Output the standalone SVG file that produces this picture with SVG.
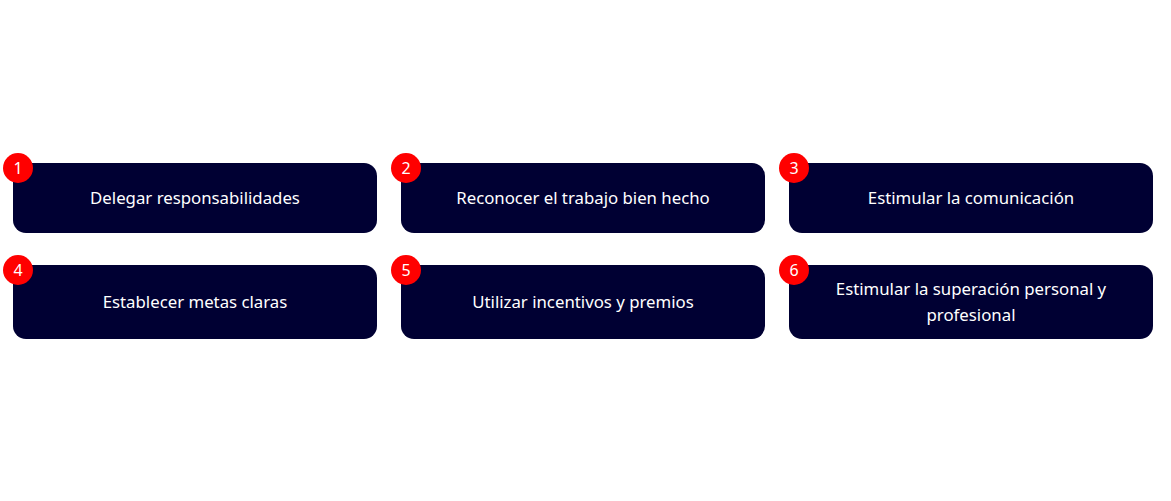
<svg xmlns="http://www.w3.org/2000/svg" width="1171" height="501" viewBox="0 0 1171 501">
<style>
.box{fill:#000033}
.badge{fill:#ff0000}
.t{font-family:"Noto Sans","Open Sans","DejaVu Sans",sans-serif;font-size:16.8px;fill:#ffffff;text-anchor:middle}
.n{font-family:"Noto Sans","Open Sans","DejaVu Sans",sans-serif;font-size:16px;fill:#ffffff;text-anchor:middle}
</style>
<rect width="1171" height="501" fill="#ffffff"/>
<g id="node1">
<rect class="box" x="13" y="163" width="364" height="70" rx="13"/>
<text class="t" x="195" y="204">Delegar responsabilidades</text>
<circle class="badge" cx="18" cy="168" r="15"/>
<text class="n" x="18" y="174">1</text>
</g>
<g id="node2">
<rect class="box" x="401" y="163" width="364" height="70" rx="13"/>
<text class="t" x="583" y="204">Reconocer el trabajo bien hecho</text>
<circle class="badge" cx="406" cy="168" r="15"/>
<text class="n" x="406" y="174">2</text>
</g>
<g id="node3">
<rect class="box" x="789" y="163" width="364" height="70" rx="13"/>
<text class="t" x="971" y="204">Estimular la comunicación</text>
<circle class="badge" cx="794" cy="168" r="15"/>
<text class="n" x="794" y="174">3</text>
</g>
<g id="node4">
<rect class="box" x="13" y="265" width="364" height="74" rx="13"/>
<text class="t" x="195" y="308">Establecer metas claras</text>
<circle class="badge" cx="18" cy="270" r="15"/>
<text class="n" x="18" y="276">4</text>
</g>
<g id="node5">
<rect class="box" x="401" y="265" width="364" height="74" rx="13"/>
<text class="t" x="583" y="308">Utilizar incentivos y premios</text>
<circle class="badge" cx="406" cy="270" r="15"/>
<text class="n" x="406" y="276">5</text>
</g>
<g id="node6">
<rect class="box" x="789" y="265" width="364" height="74" rx="13"/>
<text class="t" x="971" y="295">Estimular la superación personal y</text>
<text class="t" x="971" y="321">profesional</text>
<circle class="badge" cx="794" cy="270" r="15"/>
<text class="n" x="794" y="276">6</text>
</g>
<g id="connectors"></g>
</svg>
